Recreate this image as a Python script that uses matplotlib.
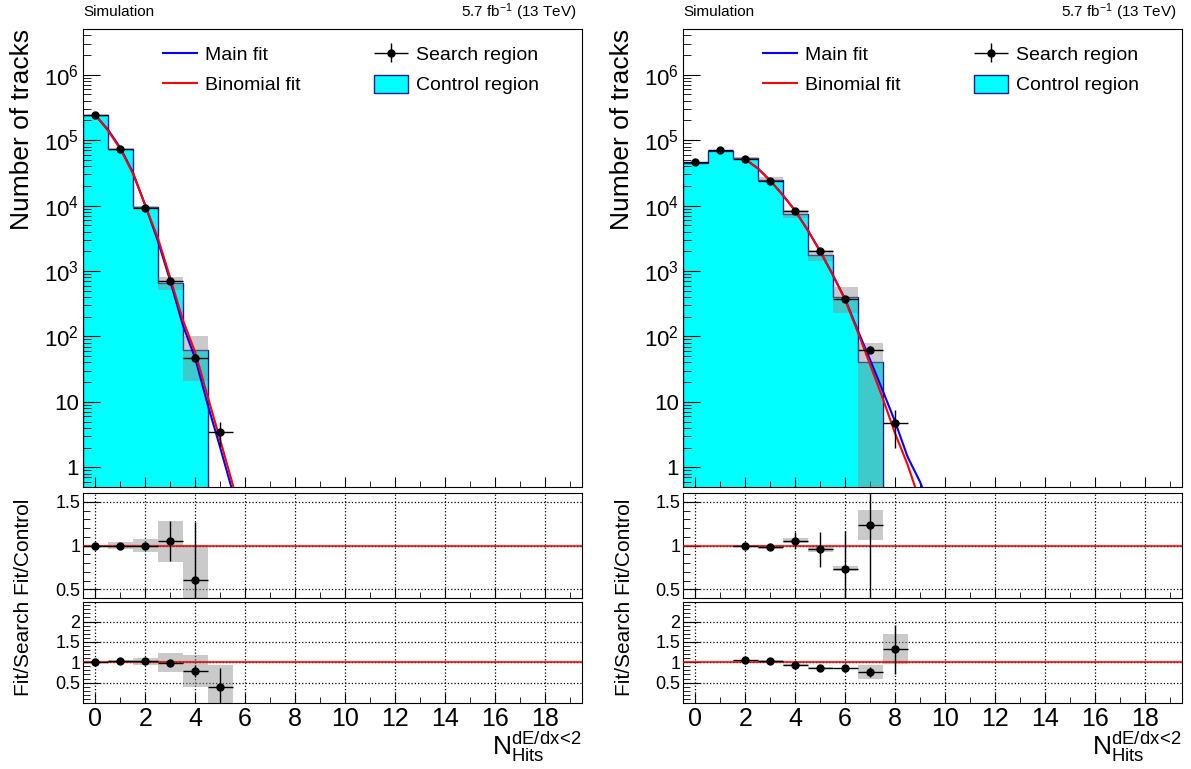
import numpy as np
import matplotlib
matplotlib.use('Agg')
import matplotlib.pyplot as plt
import matplotlib.patches as mpatches
from matplotlib.lines import Line2D
from matplotlib.container import ErrorbarContainer
from matplotlib.legend_handler import HandlerErrorbar
from matplotlib.ticker import MultipleLocator, FixedLocator, LogLocator, FuncFormatter, NullFormatter

plt.rcParams['font.family'] = ['Liberation Sans', 'DejaVu Sans']
plt.rcParams['mathtext.fontset'] = 'custom'
plt.rcParams['mathtext.rm'] = 'Liberation Sans'
plt.rcParams['mathtext.it'] = 'Liberation Sans:italic'
plt.rcParams['mathtext.bf'] = 'Liberation Sans:bold'

# ---------------- левая колонка ----------------
search_x_left = [0, 1, 2, 3, 4, 5]
search_left = [2.4e5, 7.2e4, 9.3e3, 700, 47, 3.5]
search_left_err = [500, 270, 100, 26, 7, 1.4]

control_left = [2.4e5, 7.2e4, 9.5e3, 660, 61]
control_left_err = [5e3, 2.5e3, 5e2, 150, 40]

fit_x_left = [0, 0.5, 1, 1.5, 2, 2.5, 3, 3.5, 4, 4.5, 5, 5.5, 6]
main_fit_left = [2.4e5, 1.45e5, 7.6e4, 3.2e4, 1.0e4, 2.9e3, 700, 150, 46, 9.0, 2.0, 0.42, 0.08]
binom_fit_left = [2.4e5, 1.40e5, 7.3e4, 3.1e4, 1.0e4, 3.2e3, 780, 180, 57, 12, 2.6, 0.55, 0.1]

rc_x_left = [0, 1, 2, 3, 4]
rc_left = [1.0, 1.0, 1.0, 1.05, 0.61]
rc_left_err = [0.005, 0.01, 0.02, 0.23, 0.66]
rc_left_band = [0.01, 0.036, 0.076, 0.235, 0.4]

rs_x_left = [0, 1, 2, 3, 4, 5]
rs_left = [1.0, 1.03, 1.02, 0.99, 0.79, 0.40]
rs_left_err = [0.005, 0.01, 0.02, 0.03, 0.14, 0.46]
rs_left_band = [0.01, 0.03, 0.09, 0.24, 0.39, 0.53]

# ---------------- правая колонка ----------------
search_x_right = [0, 1, 2, 3, 4, 5, 6, 7, 8]
search_right = [4.6e4, 7.0e4, 5.1e4, 2.4e4, 8.4e3, 2.0e3, 370, 63, 4.7]
search_right_err = [210, 260, 230, 150, 90, 45, 19, 8, 2.7]

control_right = [4.5e4, 6.9e4, 5.3e4, 2.5e4, 7.5e3, 1.75e3, 400, 40]
control_right_err = [1e3, 1.5e3, 2.2e3, 2e3, 1e3, 350, 170, 40]

fit_x_right = [2, 2.5, 3, 3.5, 4, 4.5, 5, 5.5, 6, 6.5, 7, 7.5, 8, 8.5, 9, 9.5]
main_fit_right = [5.1e4, 3.7e4, 2.4e4, 1.45e4, 8.3e3, 4.2e3, 2.0e3, 880, 370, 125, 44, 15, 5.0, 1.45, 0.6, 0.2]
binom_fit_right = [5.1e4, 3.7e4, 2.4e4, 1.45e4, 8.3e3, 4.2e3, 2.0e3, 880, 360, 118, 37, 11.5, 3.3, 1.1, 0.3, 0.08]

rc_x_right = [2, 3, 4, 5, 6, 7]
rc_right = [1.0, 0.985, 1.057, 0.955, 0.733, 1.237]
rc_right_err = [0.01, 0.02, 0.1, 0.2, 0.43, 0.9]
rc_right_band = [0.01, 0.02, 0.03, 0.03, 0.03, 0.17]

rs_x_right = [2, 3, 4, 5, 6, 7, 8]
rs_right = [1.05, 1.03, 0.94, 0.87, 0.85, 0.77, 1.32]
rs_right_err = [0.01, 0.01, 0.02, 0.03, 0.05, 0.12, 0.6]
rs_right_band = [0.01, 0.02, 0.02, 0.02, 0.02, 0.17, 0.37]

rc_ticks = [0.5, 1.0, 1.5]
rs_ticks = [0.5, 1.0, 1.5, 2.0]

W, H = 1191, 769
CYAN = '#00ffff'
NAVY = '#1a1a9a'
BAND = '#8a8a8a'

fig = plt.figure(figsize=(W / 100, H / 100), dpi=100)


def add_axes_px(x0, x1, ytop, ybot):
    return fig.add_axes([x0 / W, 1 - ybot / H, (x1 - x0) / W, (ybot - ytop) / H])


def log_label(v, _):
    if v <= 0:
        return ''
    e = int(round(np.log10(v)))
    if e == 0:
        return '1'
    if e == 1:
        return '10'
    return r'$\mathregular{10^{%d}}$' % e


def style_x(ax, labels):
    ax.set_xlim(-0.5, 19.5)
    ax.xaxis.set_major_locator(MultipleLocator(2))
    ax.xaxis.set_minor_locator(MultipleLocator(1))
    ax.tick_params(axis='x', which='major', length=7, labelsize=18, pad=3)
    ax.tick_params(axis='x', which='minor', length=4)
    if not labels:
        ax.xaxis.set_major_formatter(NullFormatter())


def draw_column(x0, x1, search_x, search, search_err, control, control_err,
                fit_x, main_fit, binom_fit,
                rc_x, rc, rc_err, rc_band, rs_x, rs, rs_err, rs_band):
    ax = add_axes_px(x0, x1, 29, 487)
    r1 = add_axes_px(x0, x1, 493, 598)
    r2 = add_axes_px(x0, x1, 602, 703)

    # основная панель
    ax.set_yscale('log')
    edges = np.arange(len(control) + 1) - 0.5
    ax.stairs(control, edges, fill=True, baseline=1e-3, facecolor=CYAN,
              edgecolor='none', zorder=1)
    ax.stairs(control, edges, baseline=1e-3, color=NAVY, lw=1, zorder=2)
    c = np.array(control)
    ce = np.array(control_err)
    lo = np.clip(c - ce, 1e-2, None)
    ax.bar(np.arange(len(control)), c + ce - lo, bottom=lo, width=1,
           color=BAND, alpha=0.45, lw=0, zorder=3)
    ax.plot(fit_x, main_fit, color='#0000ff', lw=1.5, zorder=4)
    ax.plot(fit_x, binom_fit, color='#ff0000', lw=1.5, zorder=5)
    eb = ax.errorbar(search_x, search, yerr=search_err, xerr=0.5, fmt='o',
                     color='black', ms=5, elinewidth=1, zorder=6)
    ax.set_ylim(0.5, 5e6)
    style_x(ax, False)
    ax.yaxis.set_major_locator(LogLocator(base=10, numticks=20))
    ax.yaxis.set_minor_locator(LogLocator(base=10, subs=np.arange(2, 10), numticks=20))
    ax.yaxis.set_major_formatter(FuncFormatter(log_label))
    ax.yaxis.set_minor_formatter(NullFormatter())
    ax.tick_params(axis='y', which='major', length=12, labelsize=16, pad=3)
    ax.tick_params(axis='y', which='minor', length=6)
    ax.tick_params(which='both', direction='in', top=False, right=False)

    handles = [Line2D([], [], color='#0000ff', lw=1.5),
               Line2D([], [], color='#ff0000', lw=1.5),
               eb,
               mpatches.Patch(facecolor=CYAN, edgecolor=NAVY, lw=1)]
    labels = ['Main fit', 'Binomial fit', 'Search region', 'Control region']
    ax.legend(handles, labels, ncol=2, loc='upper left', bbox_to_anchor=(0.16, 0.9655),
              frameon=False, fontsize=14, handlelength=1.75, handletextpad=0.4,
              columnspacing=3.8, labelspacing=0.54, handleheight=1.03,
              borderpad=0, borderaxespad=0,
              handler_map={ErrorbarContainer: HandlerErrorbar(xerr_size=0.88, yerr_size=0.5)})

    # панели отношений
    for r, xs, vals, errs, band, ylim, ticks in (
            (r1, rc_x, rc, rc_err, rc_band, (0.4, 1.6), rc_ticks),
            (r2, rs_x, rs, rs_err, rs_band, (0.0, 2.48), rs_ticks)):
        v = np.array(vals)
        b = np.array(band)
        r.bar(xs, 2 * b, bottom=v - b, width=1, color=BAND, alpha=0.45, lw=0, zorder=2)
        r.axhline(1.0, color='#e00000', lw=1.6, alpha=0.75, zorder=3)
        r.errorbar(xs, vals, yerr=errs, xerr=0.5, fmt='o', color='black', ms=5,
                   elinewidth=1, zorder=4)
        r.set_ylim(*ylim)
        r.yaxis.set_major_locator(FixedLocator(ticks))
        r.yaxis.set_minor_locator(MultipleLocator(0.1))
        r.yaxis.set_major_formatter(FuncFormatter(lambda y, _: '%g' % y))
        r.grid(True, which='major', color='black', ls=':', lw=0.9)
        r.set_axisbelow(True)
        r.tick_params(axis='y', which='major', length=12, labelsize=13, pad=2)
        r.tick_params(axis='y', which='minor', length=5)
    style_x(r1, False)
    style_x(r2, True)
    for r in (r1, r2):
        r.tick_params(which='both', direction='in', top=False, right=False)

    # подписи
    fig.text(x0 / W, 1 - 12 / H, 'Simulation', fontsize=11, ha='left', va='center')
    fig.text((x1 - 5) / W, 1 - 12 / H, r'5.7 fb$^{\mathregular{-1}}$ (13 TeV)',
             fontsize=11, ha='right', va='center')
    fig.text((x0 - 61) / W, 1 - 29 / H, 'Number of tracks', fontsize=19,
             rotation=90, ha='center', va='top')
    fig.text((x0 - 59) / W, 1 - 597 / H, 'Fit/Search Fit/Control', fontsize=15,
             rotation=90, ha='center', va='center')
    fig.text(x1 / W, 1 - 764 / H, r'$\mathregular{N_{Hits}^{dE/dx\!<\!2}}$',
             fontsize=19, ha='right', va='bottom')


draw_column(83, 582, search_x_left, search_left, search_left_err,
            control_left, control_left_err, fit_x_left, main_fit_left, binom_fit_left,
            rc_x_left, rc_left, rc_left_err, rc_left_band,
            rs_x_left, rs_left, rs_left_err, rs_left_band)
draw_column(683, 1182, search_x_right, search_right, search_right_err,
            control_right, control_right_err, fit_x_right, main_fit_right, binom_fit_right,
            rc_x_right, rc_right, rc_right_err, rc_right_band,
            rs_x_right, rs_right, rs_right_err, rs_right_band)

fig.savefig('out.png', dpi=100)
